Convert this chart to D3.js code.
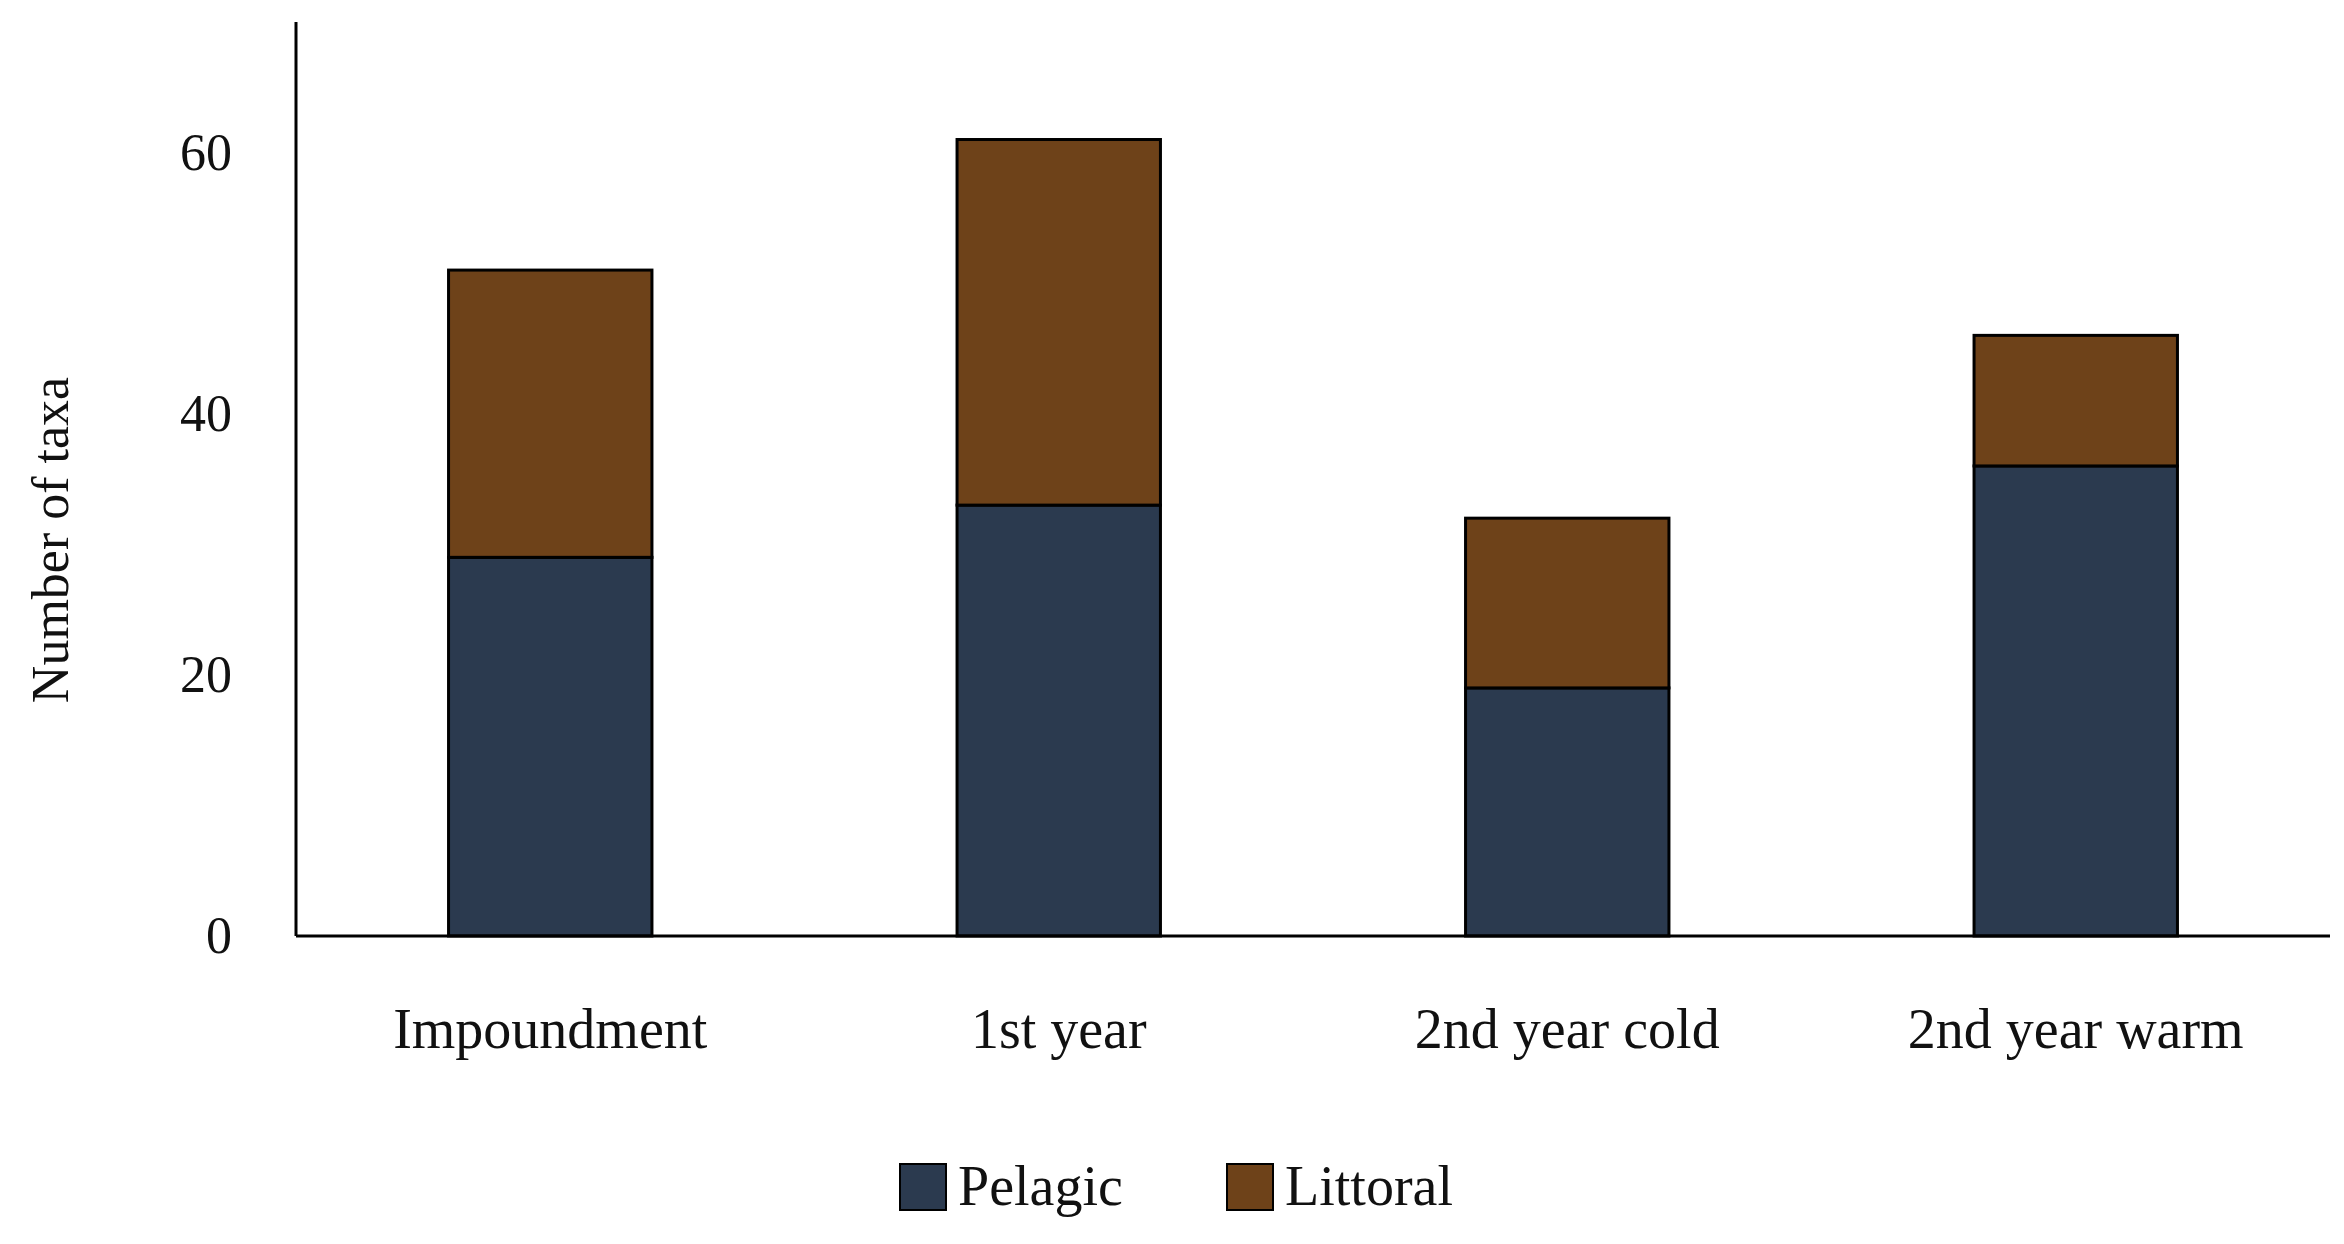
<!DOCTYPE html><html><head><meta charset="utf-8">
<script src="https://cdn.jsdelivr.net/npm/d3@7"></script>
<style>body{margin:0;background:#fff}text{font-family:"Liberation Serif","DejaVu Serif",serif;fill:#111}</style>
</head><body><svg id="c" width="2344" height="1244"></svg><script>
const categories=["Impoundment","1st year","2nd year cold","2nd year warm"];
const pelagic=[29,33,19,36];
const littoral=[22,28,13,10];
const yTicks=[0,20,40,60];
const seriesNames=["Pelagic","Littoral"];
const colors=["#2b3a4f","#6e4219"];
const svg=d3.select("#c");
const x=d3.scaleBand().domain(categories).range([296,2330]).paddingInner(0.6).paddingOuter(0.3);
const y=d3.scaleLinear().domain([0,70]).range([936,22]);
const data=categories.map((c,i)=>({cat:c,Pelagic:pelagic[i],Littoral:littoral[i]}));
const stack=d3.stack().keys(seriesNames)(data);
stack.forEach((s,k)=>{svg.append("g").selectAll("rect").data(s).join("rect")
 .attr("x",d=>x(d.data.cat)).attr("width",x.bandwidth())
 .attr("y",d=>y(d[1])).attr("height",d=>y(d[0])-y(d[1]))
 .attr("fill",colors[k]).attr("stroke","#000").attr("stroke-width",3);});
const ya=svg.append("g").attr("transform","translate(296,0)").call(d3.axisLeft(y).tickValues(yTicks).tickSize(0).tickPadding(64));
ya.select(".domain").attr("stroke","#000").attr("stroke-width",3).attr("d","M0,22V936");
ya.selectAll("text").style("font-size","52px").style("font-family","Liberation Serif");
const xa=svg.append("g").attr("transform","translate(0,936)").call(d3.axisBottom(x).tickSize(0).tickPadding(72));
xa.select(".domain").attr("stroke","#000").attr("stroke-width",3).attr("d","M296,0H2330");
xa.selectAll("text").style("font-size","56px").style("font-family","Liberation Serif");
svg.append("text").attr("transform","translate(68,540) rotate(-90)").attr("text-anchor","middle").style("font-size","52px").text("Number of taxa");
const lx=[900,1227];
seriesNames.forEach((n,i)=>{
 svg.append("rect").attr("x",lx[i]).attr("y",1164).attr("width",46).attr("height",46).attr("fill",colors[i]).attr("stroke","#000").attr("stroke-width",2);
 svg.append("text").attr("x",lx[i]+58).attr("y",1205).style("font-size","56px").text(n);});
</script></body></html>
